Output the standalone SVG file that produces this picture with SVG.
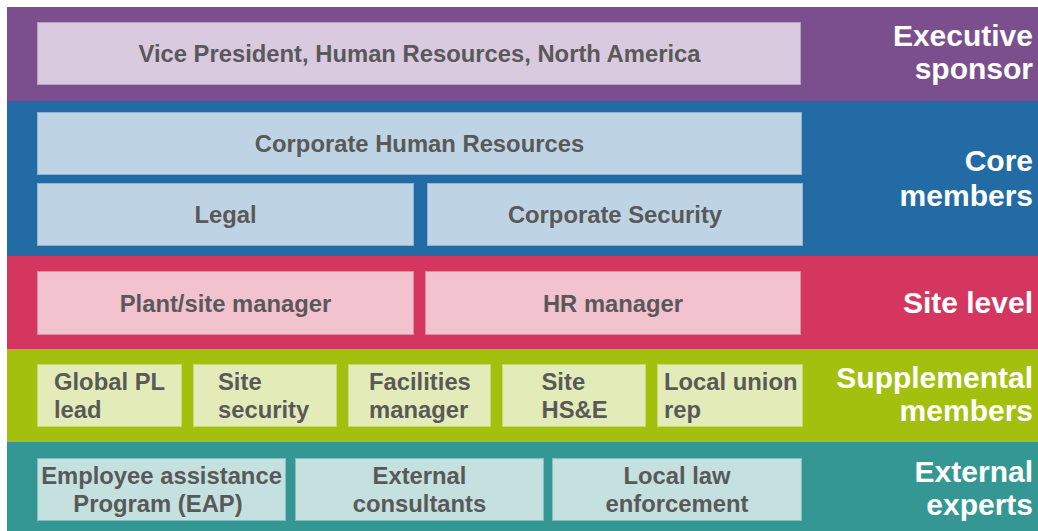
<svg xmlns="http://www.w3.org/2000/svg" width="1038" height="531" viewBox="0 0 1038 531">
<style>
.t{font-family:"Liberation Sans",Arial,sans-serif;font-weight:bold;font-size:23.8px;fill:#595959}
.c{text-anchor:middle}
.l{font-family:"Liberation Sans",Arial,sans-serif;font-weight:bold;font-size:30px;fill:#ffffff;text-anchor:end}
.bp{fill:#D9CADF;stroke:#B79FC4;stroke-width:1}
.bb{fill:#BED4E5;stroke:#8FB4D3;stroke-width:1}
.bk{fill:#F3C2CF;stroke:#E38AA2;stroke-width:1}
.bg{fill:#E3ECB8;stroke:#C8DA70;stroke-width:1}
.bt{fill:#C4E0DF;stroke:#86C0BE;stroke-width:1}
</style>
<rect width="1038" height="531" fill="#ffffff"/>
<g id="bands">
<rect x="7" y="7" width="1031" height="94" fill="#7B4F8E"/>
<rect x="7" y="101" width="1031" height="155" fill="#226BA4"/>
<rect x="7" y="256" width="1031" height="93" fill="#D43660"/>
<rect x="7" y="349" width="1031" height="93" fill="#A4C00E"/>
<rect x="7" y="442" width="1031" height="89" fill="#359794"/>
</g>
<g id="labels">
<text class="l" x="1033" y="46">Executive</text>
<text class="l" x="1033" y="79">sponsor</text>
<text class="l" x="1033" y="171">Core</text>
<text class="l" x="1033" y="206">members</text>
<text class="l" x="1033" y="313">Site level</text>
<text class="l" x="1033" y="388">Supplemental</text>
<text class="l" x="1033" y="421">members</text>
<text class="l" x="1033" y="482">External</text>
<text class="l" x="1033" y="515">experts</text>
</g>
<g id="vp"><rect class="bp" x="37.5" y="22.5" width="763" height="62"/><text class="t c" x="419.5" y="62">Vice President, Human Resources, North America</text></g>
<g id="chr"><rect class="bb" x="37.5" y="112.5" width="764" height="62"/><text class="t c" x="419.5" y="152">Corporate Human Resources</text></g>
<g id="legal"><rect class="bb" x="37.5" y="183.5" width="376" height="62"/><text class="t c" x="225.5" y="223">Legal</text></g>
<g id="corpsec"><rect class="bb" x="427.5" y="183.5" width="375" height="62"/><text class="t c" x="615" y="223">Corporate Security</text></g>
<g id="plant"><rect class="bk" x="37.5" y="271.5" width="376" height="63"/><text class="t c" x="225.5" y="312">Plant/site manager</text></g>
<g id="hr"><rect class="bk" x="425.5" y="271.5" width="375" height="63"/><text class="t c" x="613" y="312">HR manager</text></g>
<g id="global"><rect class="bg" x="37.5" y="364.5" width="144" height="62"/><text class="t" x="54" y="390">Global PL</text><text class="t" x="54" y="418">lead</text></g>
<g id="sitesec"><rect class="bg" x="193.5" y="364.5" width="143" height="62"/><text class="t" x="218" y="390">Site</text><text class="t" x="218" y="418">security</text></g>
<g id="facilities"><rect class="bg" x="348.5" y="364.5" width="142" height="62"/><text class="t" x="369" y="390">Facilities</text><text class="t" x="369" y="418">manager</text></g>
<g id="hse"><rect class="bg" x="502.5" y="364.5" width="143" height="62"/><text class="t" x="541.5" y="390">Site</text><text class="t" x="541.5" y="418">HS&amp;E</text></g>
<g id="union"><rect class="bg" x="657.5" y="364.5" width="145" height="62"/><text class="t" x="664" y="390">Local union</text><text class="t" x="664" y="418">rep</text></g>
<g id="eap"><rect class="bt" x="37.5" y="458.5" width="248" height="62"/><text class="t c" x="161.5" y="484">Employee assistance</text><text class="t c" x="158" y="512">Program (EAP)</text></g>
<g id="consult"><rect class="bt" x="295.5" y="458.5" width="248" height="62"/><text class="t c" x="419.5" y="484">External</text><text class="t c" x="419.5" y="512">consultants</text></g>
<g id="law"><rect class="bt" x="552.5" y="458.5" width="249" height="62"/><text class="t c" x="677" y="484">Local law</text><text class="t c" x="677" y="512">enforcement</text></g>
<g id="connectors"></g>
</svg>
